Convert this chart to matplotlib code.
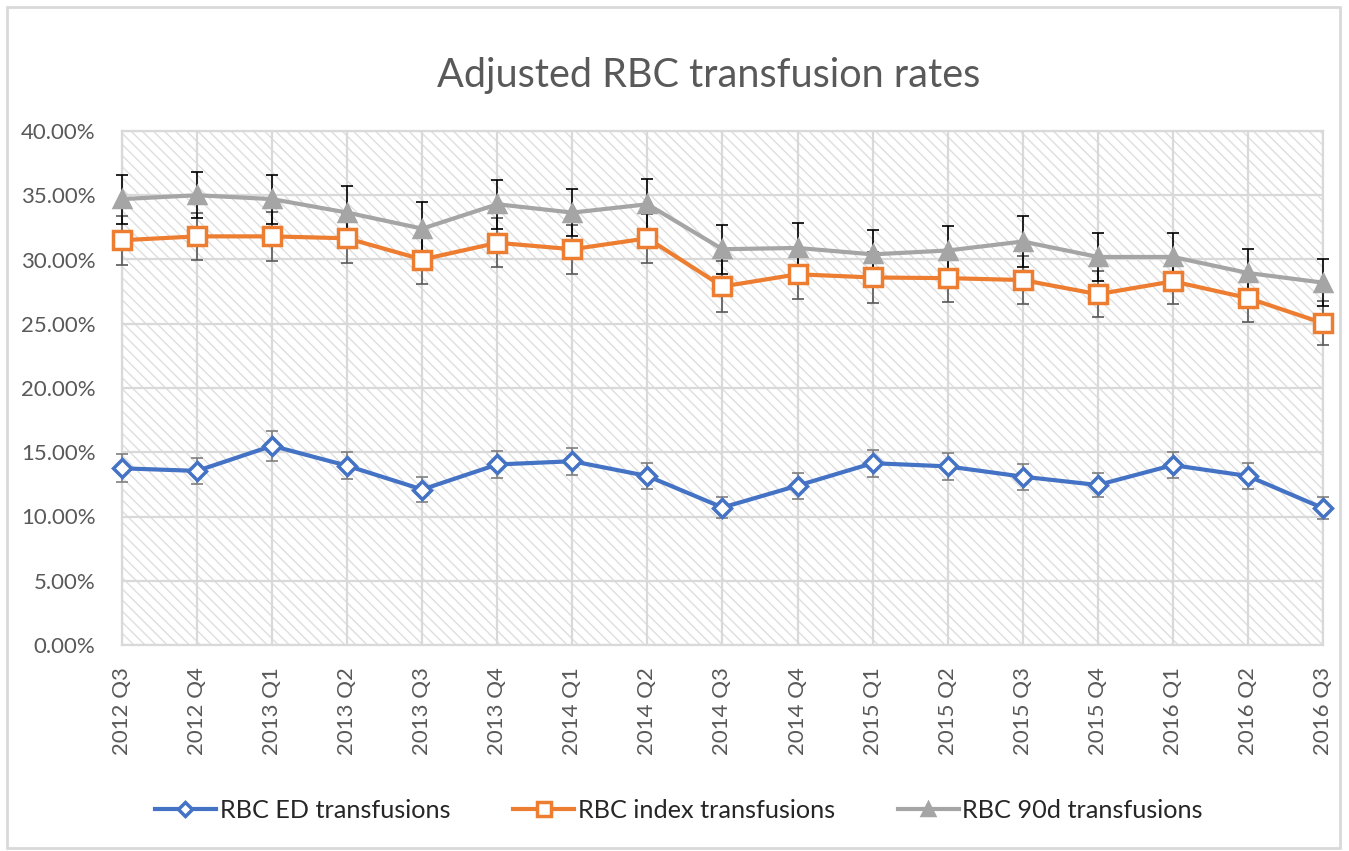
import matplotlib
matplotlib.use("Agg")
import matplotlib.pyplot as plt
from matplotlib.patches import Rectangle
from matplotlib.ticker import FuncFormatter, MultipleLocator

plt.rcParams['font.family'] = ['Lato', 'DejaVu Sans']
plt.rcParams['hatch.linewidth'] = 1.0

quarters = ["2012 Q3", "2012 Q4", "2013 Q1", "2013 Q2", "2013 Q3", "2013 Q4",
            "2014 Q1", "2014 Q2", "2014 Q3", "2014 Q4", "2015 Q1", "2015 Q2",
            "2015 Q3", "2015 Q4", "2016 Q1", "2016 Q2", "2016 Q3"]

# rates in percent
ed_rate = [13.75, 13.55, 15.5, 13.95, 12.1, 14.05, 14.3, 13.15, 10.7,
           12.4, 14.15, 13.9, 13.1, 12.45, 14.0, 13.15, 10.65]
ed_err = [1.1, 1.0, 1.15, 1.05, 1.0, 1.05, 1.05, 1.0, 0.85,
          1.0, 1.05, 1.05, 1.0, 0.95, 1.0, 1.0, 0.85]

index_rate = [31.5, 31.8, 31.8, 31.65, 30.0, 31.3, 30.8, 31.65, 27.9,
              28.85, 28.6, 28.55, 28.4, 27.3, 28.3, 27.0, 25.05]
index_err = [1.9, 1.8, 1.9, 1.9, 1.9, 1.9, 1.9, 1.9, 1.95,
             1.95, 1.95, 1.85, 1.9, 1.8, 1.8, 1.85, 1.7]

d90_rate = [34.7, 35.0, 34.7, 33.65, 32.4, 34.3, 33.65, 34.3, 30.8,
            30.9, 30.4, 30.7, 31.4, 30.2, 30.2, 28.95, 28.2]
d90_err = [1.9, 1.8, 1.9, 2.05, 2.05, 1.9, 1.85, 1.95, 1.9,
           1.95, 1.9, 1.9, 2.0, 1.9, 1.9, 1.85, 1.85]

W, H = 1349, 851
fig = plt.figure(figsize=(W / 100, H / 100), dpi=100)
ax = fig.add_axes([122 / W, 1 - 645 / H, 1201 / W, 514 / H])

# chart border
fig.patches.append(Rectangle((7 / W, 3 / H), 1333 / W, 841 / H, transform=fig.transFigure,
                             fill=False, ec="#d9d9d9", lw=2))

# hatched plot area
ax.add_patch(Rectangle((0, 0), 1, 1, transform=ax.transAxes, facecolor="white",
                       edgecolor="#dedede", lw=0, hatch="\\\\\\", zorder=0))

x = list(range(len(quarters)))
y = lambda vals: [v / 100 for v in vals]

series = [
    (ed_rate, ed_err, "#4472C4", "D", 9.5, "#7f7f7f", "RBC ED transfusions"),
    (index_rate, index_err, "#ED7D31", "s", 13, "#595959", "RBC index transfusions"),
    (d90_rate, d90_err, "#A5A5A5", "^", 12, "black", "RBC 90d transfusions"),
]
handles = []
for vals, err, color, mk, ms, ecol, label in series:
    ax.errorbar(x, y(vals), yerr=y(err), fmt="none", ecolor=ecol, elinewidth=1.2,
                capsize=4, capthick=1.2, zorder=3, clip_on=False)
    face = color if mk == "^" else "white"
    line, = ax.plot(x, y(vals), color=color, lw=3, marker=mk, ms=ms,
                    mfc=face, mec=color, mew=2.5, zorder=4, clip_on=False, label=label)
    handles.append(line)

ax.set_xlim(0, len(quarters) - 1)
ax.set_ylim(0, 0.40)
ax.yaxis.set_major_locator(MultipleLocator(0.05))
ax.yaxis.set_major_formatter(FuncFormatter(lambda v, p: f"{v * 100:.2f}%"))
ax.set_xticks(x)
ax.set_xticklabels(quarters, rotation=90)
ax.tick_params(length=0, labelsize=16, labelcolor="#595959")
ax.tick_params(axis="y", pad=19)
ax.tick_params(axis="x", pad=16)
ax.grid(True, color="#d9d9d9", lw=1.6)
ax.set_axisbelow(True)
for s in ax.spines.values():
    s.set_color("#d9d9d9")
    s.set_linewidth(1.6)

fig.text(709 / W, 1 - 75 / H, "Adjusted RBC transfusion rates", ha="center", va="center",
         fontsize=28.5, color="#595959")

fig.legend(handles=handles, loc="center", bbox_to_anchor=(679 / W, 1 - 810 / H), ncol=3,
           frameon=False, fontsize=18.2, handlelength=2.4, columnspacing=2.5,
           handletextpad=0.15, markerscale=0.75, labelcolor="#262626")

fig.savefig("out.png", dpi=100)
